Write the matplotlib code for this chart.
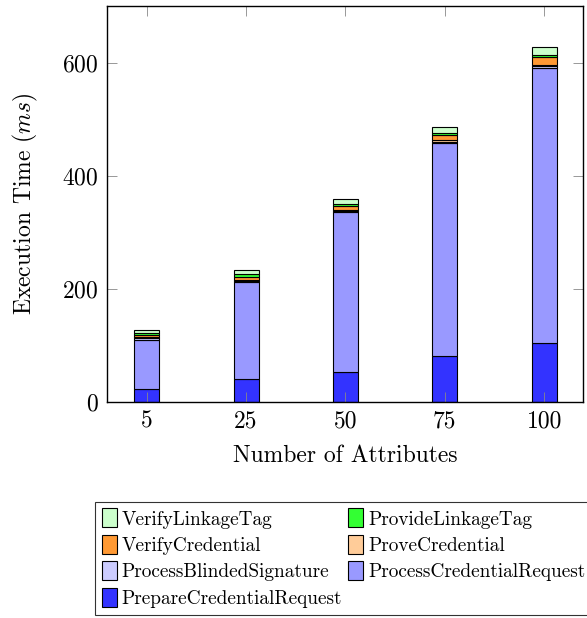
import numpy as np
import matplotlib
matplotlib.use("Agg")
import matplotlib.pyplot as plt
from matplotlib.patches import Patch

plt.rcParams['font.family'] = 'serif'
plt.rcParams['font.serif'] = ['cmr10', 'DejaVu Serif']
plt.rcParams['mathtext.fontset'] = 'cm'
plt.rcParams['axes.formatter.use_mathtext'] = True

attributes = ['5', '25', '50', '75', '100']

# stacked from bottom to top
prepare_req = [22, 40, 53, 81, 104]
process_req = [88, 171, 282, 377, 487]
process_blinded = [2, 2, 2, 2, 2]
prove_cred = [2, 3, 3, 3, 2]
verify_cred = [3.5, 5, 6, 8, 14]
provide_link = [4, 5, 4, 4, 4]
verify_link = [5, 7, 8, 11, 15]

series = [
    ('PrepareCredentialRequest', prepare_req, '#3333ff'),
    ('ProcessCredentialRequest', process_req, '#9999ff'),
    ('ProcessBlindedSignature', process_blinded, '#ccccff'),
    ('ProveCredential', prove_cred, '#ffcc99'),
    ('VerifyCredential', verify_cred, '#ff9933'),
    ('ProvideLinkageTag', provide_link, '#33ff33'),
    ('VerifyLinkageTag', verify_link, '#ccffcc'),
]

fig = plt.figure(figsize=(5.87, 6.18), dpi=100)
ax = fig.add_axes([107/587, 1 - 401.7/618, (583 - 107)/587, (401.7 - 6)/618])

x = np.arange(len(attributes))
bottom = np.zeros(len(attributes))
handles = {}
for name, vals, col in series:
    ax.bar(x, vals, 0.25, bottom=bottom, color=col, edgecolor='black', linewidth=0.8)
    bottom += np.array(vals)
    handles[name] = Patch(facecolor=col, edgecolor='black', linewidth=0.8)

ax.set_xlim(-0.4, 4.39)
ax.set_ylim(0, 700)
ax.set_xticks(x)
ax.set_xticklabels(attributes)
ax.set_yticks([0, 200, 400, 600])
ax.tick_params(direction='in', length=7, width=0.6, color='#888888',
               top=True, right=True, labelsize=17, pad=6)
for s in ax.spines.values():
    s.set_linewidth(1.0)

ax.set_xlabel('Number of Attributes', fontsize=17, labelpad=9)
ax.set_ylabel('Execution Time ($ms$)', fontsize=17, labelpad=16)

order = ['VerifyLinkageTag', 'VerifyCredential', 'ProcessBlindedSignature',
         'PrepareCredentialRequest', 'ProvideLinkageTag', 'ProveCredential',
         'ProcessCredentialRequest']
leg = fig.legend([handles[n] for n in order], order, ncol=2,
                 loc='upper left', bbox_to_anchor=(95/587, 1 - 501.7/618),
                 fontsize=13.9, frameon=True, fancybox=False, edgecolor='black',
                 handlelength=0.78, handleheight=1.14, handletextpad=0.26,
                 labelspacing=0.33, columnspacing=0.3, borderpad=0.35,
                 borderaxespad=0)
leg.get_frame().set_linewidth(0.8)

fig.savefig('out.png', dpi=100)
